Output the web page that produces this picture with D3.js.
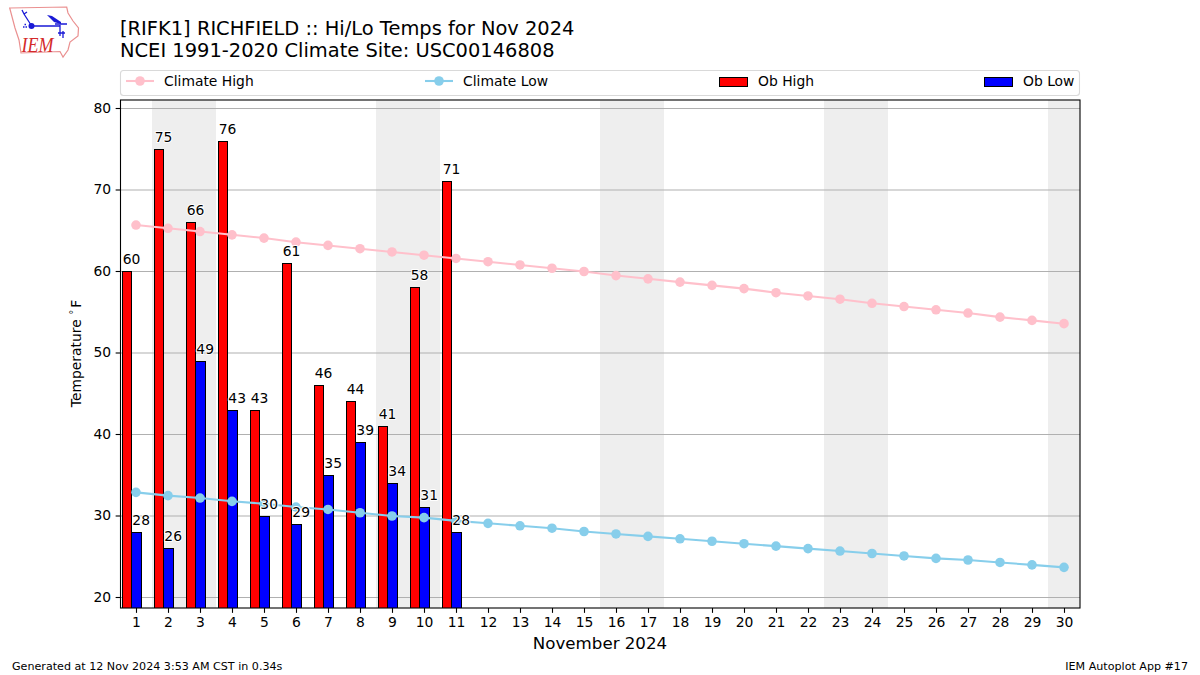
<!DOCTYPE html>
<html><head><meta charset="utf-8">
<script src="https://cdn.jsdelivr.net/npm/d3@7/dist/d3.min.js"></script>
<style>
html,body{margin:0;padding:0;background:#fff}
svg{display:block}
text{font-family:"DejaVu Sans",sans-serif;fill:#000}
</style></head><body>
<svg id="c" width="1200" height="675"></svg>
<script>
const titleLines=["[RIFK1] RICHFIELD :: Hi/Lo Temps for Nov 2024","NCEI 1991-2020 Climate Site: USC00146808"];
const days=d3.range(1,31);
const climateHigh=[65.7,65.3,64.9,64.5,64.1,63.6,63.2,62.8,62.4,62.0,61.6,61.2,60.8,60.4,60.0,59.5,59.1,58.7,58.3,57.9,57.4,57.0,56.6,56.1,55.7,55.3,54.9,54.4,54.0,53.6];
const climateLow=[32.9,32.5,32.2,31.8,31.5,31.1,30.8,30.4,30.0,29.8,29.4,29.1,28.8,28.5,28.1,27.8,27.5,27.2,26.9,26.6,26.3,26.0,25.7,25.4,25.1,24.8,24.6,24.3,24.0,23.7];
const obHigh=[60,75,66,76,43,61,46,44,41,58,71];
const obLow=[28,26,49,43,30,29,35,39,34,31,28];
const weekendDays=[2,3,9,10,16,17,23,24,30];
const yTicks=[20,30,40,50,60,70,80];

const M={l:120.5,r:1080,t:100,b:608};
const svg=d3.select("#c");
const x=d3.scaleLinear().domain([0.5,30.5]).range([120,1080]);
const y=d3.scaleLinear().domain([20,80]).range([597,108]);
const font=13.89;

svg.append("defs").append("clipPath").attr("id","plot").append("rect")
  .attr("x",M.l).attr("y",M.t).attr("width",M.r-M.l).attr("height",M.b-M.t);
const plot=svg.append("g").attr("clip-path","url(#plot)");

plot.selectAll("rect.wk").data(weekendDays).join("rect").attr("class","wk")
  .attr("x",d=>x(d-0.5)).attr("y",M.t).attr("width",x(1)-x(0)).attr("height",M.b-M.t)
  .attr("fill","#eeeeee");

plot.selectAll("line.grid").data(yTicks).join("line").attr("class","grid")
  .attr("x1",M.l).attr("x2",M.r).attr("y1",d=>y(d)+.5).attr("y2",d=>y(d)+.5)
  .attr("stroke","#b0b0b0").attr("stroke-width",1.1);

function bars(vals,off0,off1,color){
  const px=v=>Math.round(v)+.5;
  plot.selectAll(null).data(vals).join("rect")
    .attr("x",(d,i)=>px(x(days[i]+off0)))
    .attr("width",(d,i)=>px(x(days[i]+off1))-px(x(days[i]+off0)))
    .attr("y",d=>px(y(d))).attr("height",d=>M.b+4-px(y(d)))
    .attr("fill",color).attr("stroke","#000").attr("stroke-width",1);
}
bars(obHigh,-0.4375,-0.15,"#ff0000");
bars(obLow,-0.15,0.15,"#0000ff");

function series(vals,color){
  const line=d3.line().x((d,i)=>x(days[i])).y(d=>y(d)+.5);
  plot.append("path").attr("d",line(vals)).attr("fill","none").attr("stroke",color).attr("stroke-width",2.08);
  plot.selectAll(null).data(vals).join("circle")
    .attr("cx",(d,i)=>x(days[i])).attr("cy",d=>y(d)+.5).attr("r",4.8).attr("fill",color);
}
series(climateHigh,"#ffc0cb");
series(climateLow,"#87ceeb");

function labels(vals,off){
  svg.append("g").selectAll("text").data(vals).join("text")
    .attr("x",(d,i)=>x(days[i]+off)+0.8).attr("y",d=>y(d)-7)
    .attr("font-size",font)
    .style("paint-order","stroke").style("stroke","#fff").style("stroke-width",2).style("stroke-linejoin","round")
    .text(d=>d);
}
labels(obHigh,-0.44);
labels(obLow,-0.14);

// axes
const ax=svg.append("g").attr("transform",`translate(0,${M.b})`)
  .call(d3.axisBottom(x).tickValues(days).tickFormat(d3.format("d")).tickSize(4.86).tickPadding(4.5));
const ay=svg.append("g").attr("transform",`translate(${M.l},0)`)
  .call(d3.axisLeft(y).tickValues(yTicks).tickFormat(d3.format("d")).tickSize(4.86).tickPadding(4.5));
[ax,ay].forEach(a=>{
  a.select(".domain").remove();
  a.selectAll("line").attr("stroke","#000").attr("stroke-width",1.1);
  a.selectAll("text").attr("font-size",font).attr("font-family",'"DejaVu Sans"');
});
svg.append("rect").attr("x",M.l).attr("y",M.t).attr("width",M.r-M.l).attr("height",M.b-M.t)
  .attr("fill","none").attr("stroke","#000").attr("stroke-width",1.1);

svg.append("text").attr("x",600).attr("y",649).attr("text-anchor","middle").attr("font-size",16.67).text("November 2024");
const yl=svg.append("text").attr("transform","translate(81,353.5) rotate(-90)").attr("text-anchor","middle").attr("font-size",font);
yl.append("tspan").text("Temperature ");
yl.append("tspan").attr("font-size",10).attr("dy",-4).text("°");
yl.append("tspan").attr("dy",4).attr("dx",2).text("F");

svg.selectAll("text.t").data(titleLines).join("text").attr("class","t")
  .attr("x",120).attr("y",(d,i)=>35+i*22.3).attr("font-size",19.44).text(d=>d);

svg.append("text").attr("x",12).attr("y",670).attr("font-size",11.11).text("Generated at 12 Nov 2024 3:53 AM CST in 0.34s");
svg.append("text").attr("x",1188).attr("y",670).attr("text-anchor","end").attr("font-size",11.11).text("IEM Autoplot App #17");

// legend
const lg=svg.append("g");
lg.append("rect").attr("x",120.5).attr("y",70.5).attr("width",959).attr("height",25).attr("rx",3)
  .attr("fill","#fff").attr("stroke","#d9d9d9").attr("stroke-width",1.1);
const legendLines=[{name:"Climate High",c:"#ffc0cb",x0:126},{name:"Climate Low",c:"#87ceeb",x0:425}];
legendLines.forEach(d=>{
  lg.append("line").attr("x1",d.x0).attr("x2",d.x0+28).attr("y1",81).attr("y2",81).attr("stroke",d.c).attr("stroke-width",2.08);
  lg.append("circle").attr("cx",d.x0+14).attr("cy",81).attr("r",4.8).attr("fill",d.c);
  lg.append("text").attr("x",d.x0+38).attr("y",86).attr("font-size",font).text(d.name);
});
const legendBars=[{name:"Ob High",c:"#ff0000",x0:719},{name:"Ob Low",c:"#0000ff",x0:984}];
legendBars.forEach(d=>{
  lg.append("rect").attr("x",d.x0+.5).attr("y",77.5).attr("width",28).attr("height",9).attr("fill",d.c).attr("stroke","#000").attr("stroke-width",1);
  lg.append("text").attr("x",d.x0+39).attr("y",86).attr("font-size",font).text(d.name);
});

// logo
const logo=svg.append("g");
logo.append("path").attr("d","M9.7,8 L66.7,7 L68,13 L73,21 L78.5,28 L78,36 L70,42 L68,50 L63,57 L60,51.5 L21,53 L19,40 L15,28 Z")
  .attr("fill","#fff").attr("stroke","#ea9090").attr("stroke-width",1.2);
const blue="#1a1ad6";
logo.append("path").attr("d","M31.5,26 H60 M55,24 H67 M60,25 V36 M63,31 V38 M58,33 H65 M31,25 L24,14 L22,10 M24,14 L27,12")
  .attr("fill","none").attr("stroke",blue).attr("stroke-width",1.3);
logo.append("circle").attr("cx",31.5).attr("cy",26).attr("r",3).attr("fill",blue);
logo.append("path").attr("d","M47,15 L52,16 L61,22 L61,24 L54,22 Z").attr("fill",blue);
logo.append("path").attr("d","M23,27 h1.5 M25.5,27 h1.5 M24.5,24.5 h1.5").attr("stroke",blue).attr("stroke-width",1.5);
logo.append("text").attr("x",21.5).attr("y",52).attr("textLength",32).attr("lengthAdjust","spacingAndGlyphs")
  .style("font-family","'Liberation Serif',serif").style("font-style","italic").style("font-size","21px").style("fill","#d42a2a").text("IEM");
</script>
</body></html>
